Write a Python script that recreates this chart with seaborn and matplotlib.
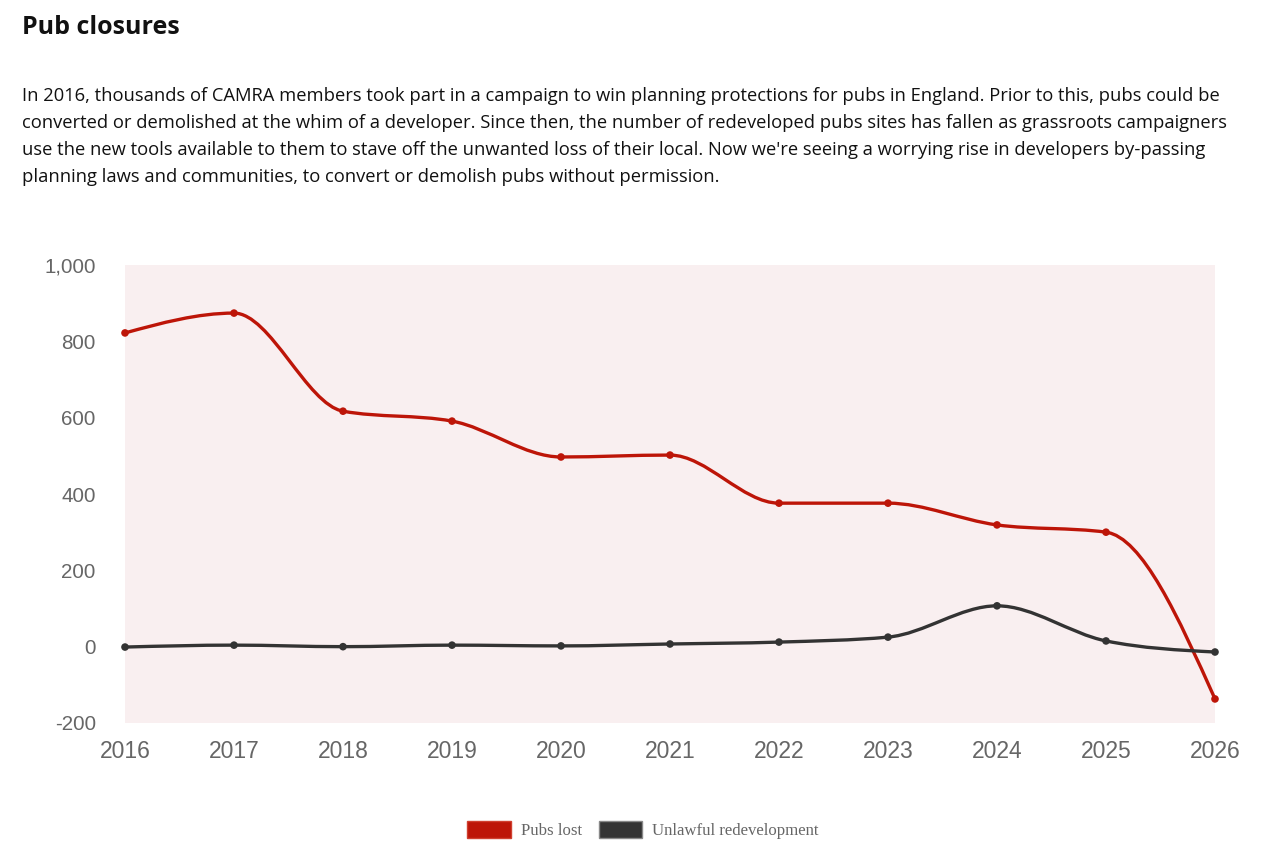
import numpy as np
import pandas as pd
import matplotlib.pyplot as plt
import seaborn as sns
from matplotlib.path import Path
from matplotlib.patches import PathPatch, Patch

YEARS = [2016, 2017, 2018, 2019, 2020, 2021, 2022, 2023, 2024, 2025, 2026]
PUBS_LOST = [822, 874, 617, 591, 497, 502, 376, 376, 319, 300, -137]
UNLAWFUL = [-1, 4, 0, 4, 2, 7, 12, 25, 107, 15, -14]
Y_TICKS = [-200, 0, 200, 400, 600, 800, 1000]

RED = "#bd1508"
DARK = "#333333"

TITLE = "Pub closures"
BODY = ("In 2016, thousands of CAMRA members took part in a campaign to win planning protections for pubs in England. Prior to this, pubs could be\n"
        "converted or demolished at the whim of a developer. Since then, the number of redeveloped pubs sites has fallen as grassroots campaigners\n"
        "use the new tools available to them to stave off the unwanted loss of their local. Now we're seeing a worrying rise in developers by-passing\n"
        "planning laws and communities, to convert or demolish pubs without permission.")


def monotone_path(x, y):
    # cubic bezier segments with monotone-x tangents, like d3.curveMonotoneX
    x = np.asarray(x, float)
    y = np.asarray(y, float)
    h = np.diff(x)
    s = np.diff(y) / h
    n = len(x)
    t = np.zeros(n)
    for i in range(1, n - 1):
        p = (s[i - 1] * h[i] + s[i] * h[i - 1]) / (h[i - 1] + h[i])
        t[i] = (np.sign(s[i - 1]) + np.sign(s[i])) * min(abs(s[i - 1]), abs(s[i]), 0.5 * abs(p))
    t[0] = (3 * s[0] - t[1]) / 2
    t[-1] = (3 * s[-1] - t[-2]) / 2
    verts = [(x[0], y[0])]
    codes = [Path.MOVETO]
    for i in range(n - 1):
        d = h[i] / 3
        verts += [(x[i] + d, y[i] + t[i] * d), (x[i + 1] - d, y[i + 1] - t[i + 1] * d), (x[i + 1], y[i + 1])]
        codes += [Path.CURVE4] * 3
    return Path(verts, codes)


df = pd.DataFrame({"year": YEARS, "Pubs lost": PUBS_LOST, "Unlawful redevelopment": UNLAWFUL})
long = df.melt(id_vars="year", var_name="series", value_name="value")

sns.set_style("white")
plt.rcParams["font.family"] = ["Liberation Sans", "DejaVu Sans"]

fig = plt.figure(figsize=(12.8, 8.61), dpi=100)
ax = fig.add_axes([125 / 1280, 138 / 861, 1090 / 1280, 458 / 861])
ax.set_facecolor("#f9eff0")

for name, color in [("Pubs lost", RED), ("Unlawful redevelopment", DARK)]:
    sub = long[long.series == name]
    ax.add_patch(PathPatch(monotone_path(sub.year, sub.value), facecolor="none",
                           edgecolor=color, lw=2.4, zorder=3, clip_on=False))

sns.scatterplot(data=long, x="year", y="value", hue="series",
                palette={"Pubs lost": RED, "Unlawful redevelopment": DARK},
                s=30, edgecolor="none", legend=False, ax=ax, zorder=4, clip_on=False)

ax.set_xlim(YEARS[0], YEARS[-1])
ax.set_ylim(-200, 1000)
ax.set_xticks(YEARS)
ax.set_xticklabels([str(v) for v in YEARS])
ax.set_yticks(Y_TICKS)
ax.set_yticklabels([f"{v:,}" for v in Y_TICKS])
ax.tick_params(axis="x", labelsize=16.5, colors="#666666", length=0, pad=12)
ax.tick_params(axis="y", labelsize=14.8, colors="#666666", length=0, pad=21)
ax.set_xlabel("")
ax.set_ylabel("")
for sp in ax.spines.values():
    sp.set_visible(False)

fig.text(22 / 1280, 1 - 27 / 861, TITLE, fontsize=18, fontweight="bold",
         family=["Open Sans", "DejaVu Sans"], color="#111111", va="center")
fig.text(22 / 1280, 1 - 87 / 861, BODY, fontsize=13.2, family=["Open Sans", "DejaVu Sans"],
         color="#111111", va="top", linespacing=1.64)

handles = [Patch(facecolor=RED, edgecolor="#d04030", lw=1),
           Patch(facecolor=DARK, edgecolor="#888888", lw=1)]
fig.legend(handles, ["Pubs lost", "Unlawful redevelopment"], loc="center",
           bbox_to_anchor=(643 / 1280, 1 - 830 / 861), ncol=2, frameon=False,
           handlelength=2.6, handleheight=1.2, handletextpad=0.6, columnspacing=1.0,
           prop={"family": ["Liberation Serif", "DejaVu Serif"], "size": 12.1},
           labelcolor="#666666")

fig.savefig("out.png", dpi=100)
